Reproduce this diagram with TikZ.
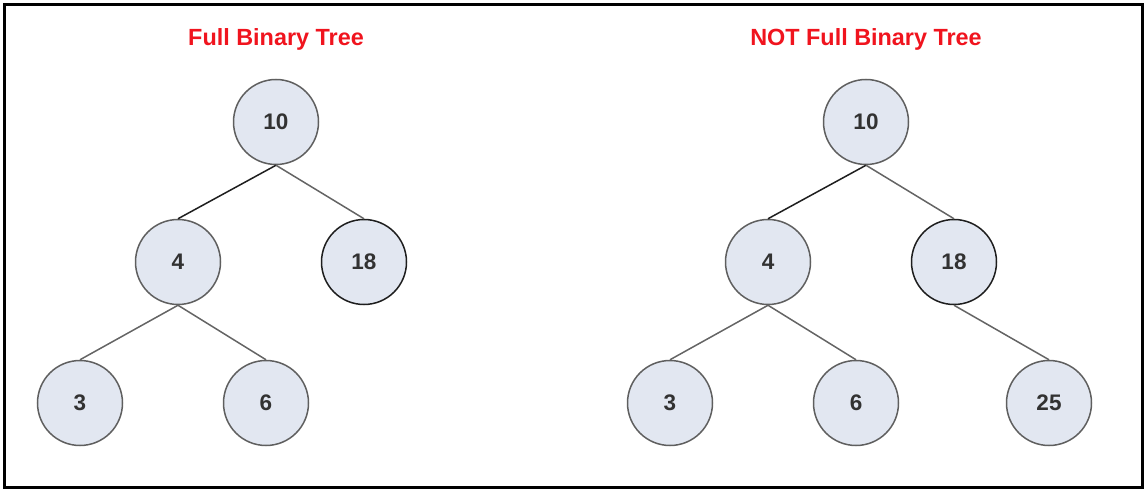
\documentclass[tikz,border=0pt]{standalone}
\usepackage{fontspec}
\setmainfont{Liberation Sans}
\definecolor{nodefill}{RGB}{226,231,241}
\definecolor{nodeline}{RGB}{95,95,95}
\definecolor{darkline}{RGB}{30,30,30}
\definecolor{edgegray}{RGB}{100,100,100}
\definecolor{titlered}{RGB}{240,20,30}
\definecolor{numtext}{RGB}{50,50,50}
\begin{document}
\begin{tikzpicture}[x=1pt,y=-1pt,
  tnode/.style={circle,draw=nodeline,fill=nodefill,line width=1.5pt,minimum size=85pt,inner sep=0pt,
    font=\fontsize{22.5}{24}\selectfont\bfseries,text=numtext},
  darknode/.style={tnode,draw=darkline},
  edge/.style={draw=edgegray,line width=1.5pt},
  darkedge/.style={draw=darkline,line width=1.5pt},
  title/.style={font=\fontsize{23.4}{26}\selectfont\bfseries,text=titlered}]
\useasboundingbox (0,0) rectangle (1144,489);
\draw[line width=3pt,black] (4.5,4.5) rectangle (1142.5,487.5);
% left tree
\node[title] (t1) at (276,39) {Full Binary Tree};
\node[tnode] (a10) at (276,122) {10};
\node[tnode] (a4) at (178,262) {4};
\node[darknode] (a18) at (364,262) {18};
\node[tnode] (a3) at (80,403) {3};
\node[tnode] (a6) at (266,403) {6};
\draw[darkedge] (a10.south) -- (a4.north);
\draw[edge] (a10.south) -- (a18.north);
\draw[edge] (a4.south) -- (a3.north);
\draw[edge] (a4.south) -- (a6.north);
% right tree
\node[title] (t2) at (866,39) {NOT Full Binary Tree};
\node[tnode] (b10) at (866,122) {10};
\node[tnode] (b4) at (768,262) {4};
\node[darknode] (b18) at (954,262) {18};
\node[tnode] (b3) at (670,403) {3};
\node[tnode] (b6) at (856,403) {6};
\node[tnode] (b25) at (1049,403) {25};
\draw[darkedge] (b10.south) -- (b4.north);
\draw[edge] (b10.south) -- (b18.north);
\draw[edge] (b4.south) -- (b3.north);
\draw[edge] (b4.south) -- (b6.north);
\draw[edge] (b18.south) -- (b25.north);
\end{tikzpicture}
\end{document}
